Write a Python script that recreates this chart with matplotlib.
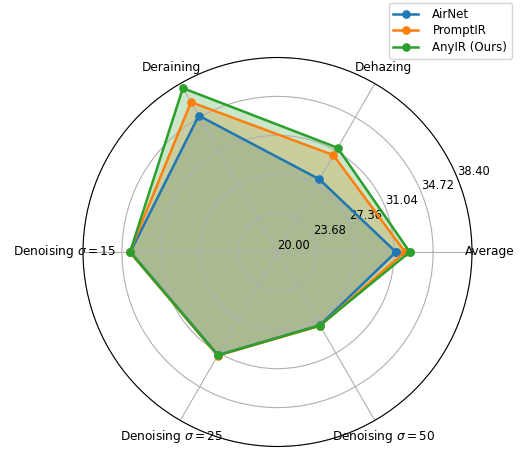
import numpy as np
import matplotlib.pyplot as plt

# данные для радарной диаграммы
categories = ['Average', 'Dehazing', 'Deraining',
              r'Denoising $\sigma=15$', r'Denoising $\sigma=25$', r'Denoising $\sigma=50$']
airnet = [31.20, 27.94, 34.90, 33.92, 31.26, 28.00]
promptir = [32.06, 30.58, 36.37, 33.98, 31.31, 28.06]
anyir = [32.51, 31.38, 37.90, 33.95, 31.29, 28.03]
r_ticks = [20.00, 23.68, 27.36, 31.04, 34.72, 38.40]

plt.rcParams['font.size'] = 8.3

N = len(categories)
angles = np.linspace(0, 2 * np.pi, N, endpoint=False).tolist()
angles += angles[:1]

fig = plt.figure(figsize=(5.2, 4.51), dpi=100)
ax = fig.add_axes([83 / 520, 4.5 / 451, 389 / 520, 389 / 451], projection='polar')

for name, vals in [('AirNet', airnet), ('PromptIR', promptir), ('AnyIR (Ours)', anyir)]:
    v = vals + vals[:1]
    line, = ax.plot(angles, v, marker='o', linewidth=1.8, markersize=5.2, label=name)
    ax.fill(angles, v, color=line.get_color(), alpha=0.25)

ax.set_xticks(angles[:-1])
ax.set_xticklabels(categories)
ax.tick_params(axis='x', pad=2.6, labelsize=8.7)
ax.set_yticks(r_ticks)
ax.set_yticklabels(['%.2f' % t for t in r_ticks])
ax.set_ylim(20, 38.4)

fig.legend(loc='upper right', bbox_to_anchor=(512 / 520, 1 - 3 / 451), borderaxespad=0,
           fontsize=8.5, labelspacing=0.3, handletextpad=1.2, handlelength=2.1)

fig.savefig('out.png', dpi=100)
